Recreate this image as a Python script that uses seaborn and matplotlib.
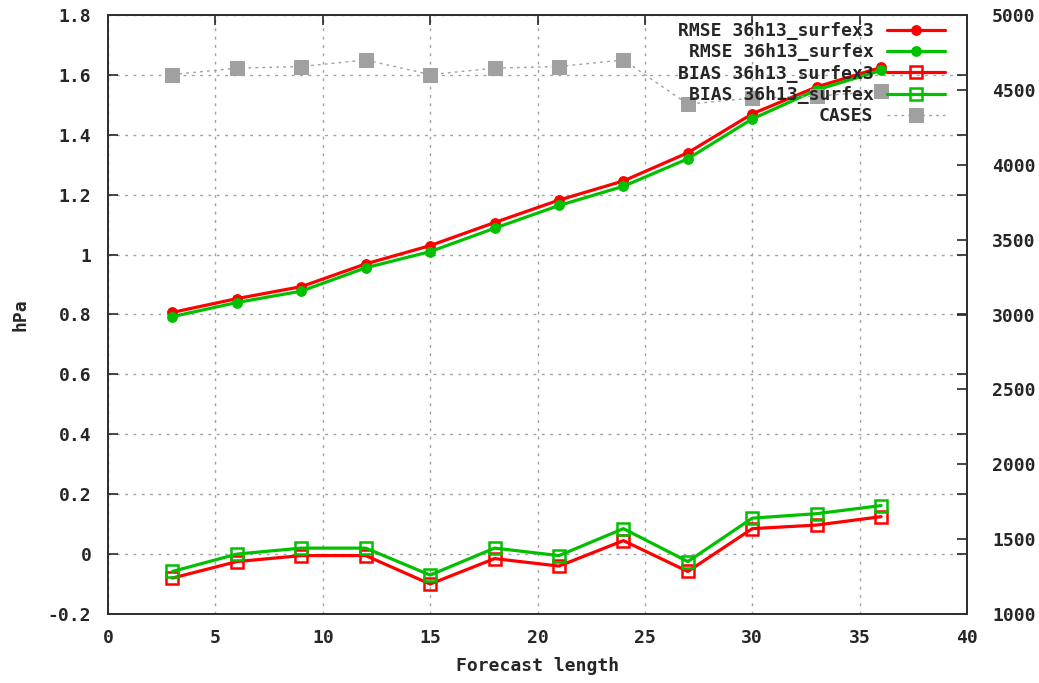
import numpy as np
import pandas as pd
import matplotlib
matplotlib.use("Agg")
import matplotlib.pyplot as plt
import seaborn as sns
from matplotlib.ticker import FuncFormatter

# ---- data ----
lead = [3, 6, 9, 12, 15, 18, 21, 24, 27, 30, 33, 36]
rmse_surfex3 = [0.807, 0.853, 0.893, 0.969, 1.030, 1.107, 1.182, 1.246, 1.340, 1.470, 1.560, 1.625]
rmse_surfex = [0.793, 0.840, 0.878, 0.956, 1.010, 1.088, 1.164, 1.228, 1.320, 1.453, 1.550, 1.615]
bias_surfex3 = [-0.080, -0.025, -0.005, -0.005, -0.100, -0.015, -0.040, 0.045, -0.058, 0.085, 0.097, 0.125]
bias_surfex = [-0.058, 0.000, 0.020, 0.020, -0.070, 0.020, -0.005, 0.085, -0.025, 0.120, 0.135, 0.162]
cases = [4602, 4645, 4656, 4700, 4602, 4645, 4656, 4700, 4405, 4445, 4458, 4492]

labels = ["RMSE 36h13_surfex3", "RMSE 36h13_surfex", "BIAS 36h13_surfex3",
          "BIAS 36h13_surfex", "CASES"]
x_ticks = list(range(0, 41, 5))
y_ticks = [-0.2, 0, 0.2, 0.4, 0.6, 0.8, 1.0, 1.2, 1.4, 1.6, 1.8]
y2_ticks = list(range(1000, 5001, 500))

RED = "#ff0000"
GREEN = "#00c000"
GRAY = "#a0a0a0"
FS = 13

sns.set_style("white")
plt.rcParams["font.family"] = ["DejaVu Sans Mono", "DejaVu Sans"]
plt.rcParams["font.weight"] = "bold"
plt.rcParams["axes.linewidth"] = 1.3

fig = plt.figure(figsize=(10.39, 6.83), dpi=100)
ax = fig.add_axes([108 / 1039, 1 - 614 / 683, (967 - 108) / 1039, (614 - 15) / 683])
ax2 = ax.twinx()

df = pd.DataFrame({"lead": lead, "r3": rmse_surfex3, "r": rmse_surfex,
                   "b3": bias_surfex3, "b": bias_surfex, "cases": cases})

lw = 2.3
sns.lineplot(data=df, x="lead", y="r3", ax=ax, color=RED, lw=lw, marker="o", ms=7,
             mec=RED, mfc=RED, label=labels[0], legend=False)
sns.lineplot(data=df, x="lead", y="r", ax=ax, color=GREEN, lw=lw, marker="o", ms=7,
             mec=GREEN, mfc=GREEN, label=labels[1], legend=False)
sns.lineplot(data=df, x="lead", y="b3", ax=ax, color=RED, lw=lw, marker="s", ms=8,
             mec=RED, mfc="none", mew=1.8, label=labels[2], legend=False)
sns.lineplot(data=df, x="lead", y="b", ax=ax, color=GREEN, lw=lw, marker="s", ms=8,
             mec=GREEN, mfc="none", mew=1.8, label=labels[3], legend=False)
sns.lineplot(data=df, x="lead", y="cases", ax=ax2, color=GRAY, lw=1.0, ls=(0, (2, 3)),
             marker="s", ms=10, mec=GRAY, mfc=GRAY, label=labels[4], legend=False)

ax.set_xlim(0, 40)
ax.set_ylim(-0.2, 1.8)
ax2.set_ylim(1000, 5000)
ax.set_xticks(x_ticks)
ax.set_yticks(y_ticks)
ax2.set_yticks(y2_ticks)
ax.yaxis.set_major_formatter(FuncFormatter(lambda v, p: f"{v:g}"))
ax2.yaxis.set_major_formatter(FuncFormatter(lambda v, p: f"{v:g}"))

ax.grid(True, color=GRAY, lw=1.0, ls=(0, (2, 4)))
ax.tick_params(direction="in", top=True, right=True, length=7, width=1.2,
               labelsize=FS)
ax.tick_params(axis="y", pad=12)
ax.tick_params(axis="x", pad=11)
ax2.tick_params(direction="in", length=7, width=1.2, labelsize=FS, pad=18)
for t in ax.get_xticklabels() + ax.get_yticklabels() + ax2.get_yticklabels():
    t.set_fontweight("bold")

ax.set_xlabel("Forecast length", fontsize=FS, fontweight="bold", labelpad=7)
ax.set_ylabel("hPa", fontsize=FS, fontweight="bold", labelpad=13)
ax2.set_ylabel("")
for a in (ax, ax2):
    for s in a.spines.values():
        s.set_color("#303030")

h1, l1 = ax.get_legend_handles_labels()
h2, l2 = ax2.get_legend_handles_labels()
leg = ax2.legend(h1 + h2, l1 + l2, loc="upper right", frameon=False,
                 bbox_to_anchor=(1 - 15 / 859, 1.0),
                 markerfirst=False, handlelength=3.2,
                 labelspacing=0.18, borderaxespad=0.1, handletextpad=0.75,
                 borderpad=0.3,
                 prop={"family": "DejaVu Sans Mono", "weight": "bold", "size": FS})

fig.savefig("out.png", dpi=100)
